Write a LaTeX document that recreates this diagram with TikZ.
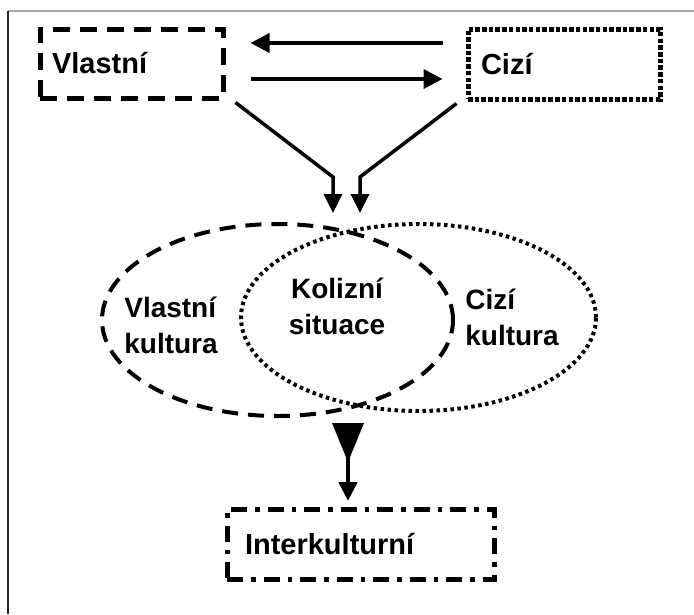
\documentclass[tikz,border=0pt]{standalone}
\usepackage{fontspec}
\setmainfont{Liberation Sans}
\usetikzlibrary{arrows.meta,shapes.geometric}
\tikzset{
  lbl/.style={font=\bfseries\fontsize{28}{36}\selectfont, inner sep=0pt},
  boxbase/.style={draw, rectangle, line width=5pt, align=left, inner ysep=0pt,
     font=\bfseries\fontsize{29}{36}\selectfont},
  dashbox/.style={boxbase, dash pattern=on 17pt off 10pt},
  dotbox/.style={boxbase, dash pattern=on 4.5pt off 2.2pt},
  dashdotbox/.style={boxbase, dash pattern=on 16pt off 8pt on 4.5pt off 8pt},
  dashell/.style={draw, ellipse, line width=4pt, dash pattern=on 16pt off 10pt, inner sep=0pt},
  dotell/.style={draw, ellipse, line width=4pt, dash pattern=on 3.5pt off 3.5pt, inner sep=0pt},
  arr/.style={line width=3.8pt, -{Triangle[width=19pt,length=19pt]}},
}
\begin{document}
\begin{tikzpicture}[x=1pt,y=-1pt]
\useasboundingbox (0,0) rectangle (694,614);
% frame
\coordinate (fTL) at (8,11);
\coordinate (fTR) at (694,11);
\coordinate (fBL) at (8,614);
\draw[line width=1.5pt, black!35] (fTL) -- (fTR);
\draw[line width=1.8pt, black!85] (fTL) -- (fBL);

% boxes
\node[dashbox, minimum width=183pt, minimum height=69pt, text width=159pt, inner xsep=12pt] (vl) at (131.5,63.5) {Vlastní};
\node[dotbox, minimum width=192pt, minimum height=70pt, text width=166pt, inner xsep=13pt] (ci) at (564,64) {Cizí};
\node[dashdotbox, minimum width=267pt, minimum height=70pt, text width=231pt, inner xsep=18pt] (ik) at (360.5,544) {Interkulturní};

% ellipses
\node[dashell, minimum width=351pt, minimum height=192pt] (le) at (277.5,320) {};
\node[dotell, minimum width=355pt, minimum height=187pt] (re) at (418.5,317.5) {};

% ellipse labels
\node[lbl, align=left] (vk) at (171,325) {Vlastní\\kultura};
\node[lbl, align=center] (ks) at (337,306) {Kolizní\\situace};
\node[lbl, align=left] (ck) at (512,317) {Cizí\\kultura};

% horizontal arrows
\draw[arr, shorten <=23pt, shorten >=25pt] ([yshift=21pt]ci.west) -- ([yshift=20.5pt]vl.east);
\draw[arr, shorten <=25pt, shorten >=23pt] ([yshift=-15.5pt]vl.east) -- ([yshift=-15pt]ci.west);

% converging arrows
\coordinate (m1) at (333,177);
\coordinate (e1) at (333,213);
\coordinate (m2) at (360,177);
\coordinate (e2) at (360,213);
\draw[arr, line width=3.5pt, -{Triangle[width=18pt,length=19pt]}] ([shift={(10pt,-2pt)}]vl.south east) -- (m1) -- (e1);
\draw[arr, line width=3.5pt, -{Triangle[width=18pt,length=19pt]}] ([shift={(-9pt,-2pt)}]ci.south west) -- (m2) -- (e2);

% bottom wedge and arrow
\coordinate (w1) at (332,423);
\coordinate (w2) at (364,423);
\coordinate (w3) at (348,462);
\coordinate (e3) at (348,501);
\fill (w1) -- (w2) -- (w3) -- cycle;
\draw[arr, line width=4.5pt, -{Triangle[width=18pt,length=19pt]}] (348,455) -- (e3);
\end{tikzpicture}
\end{document}
